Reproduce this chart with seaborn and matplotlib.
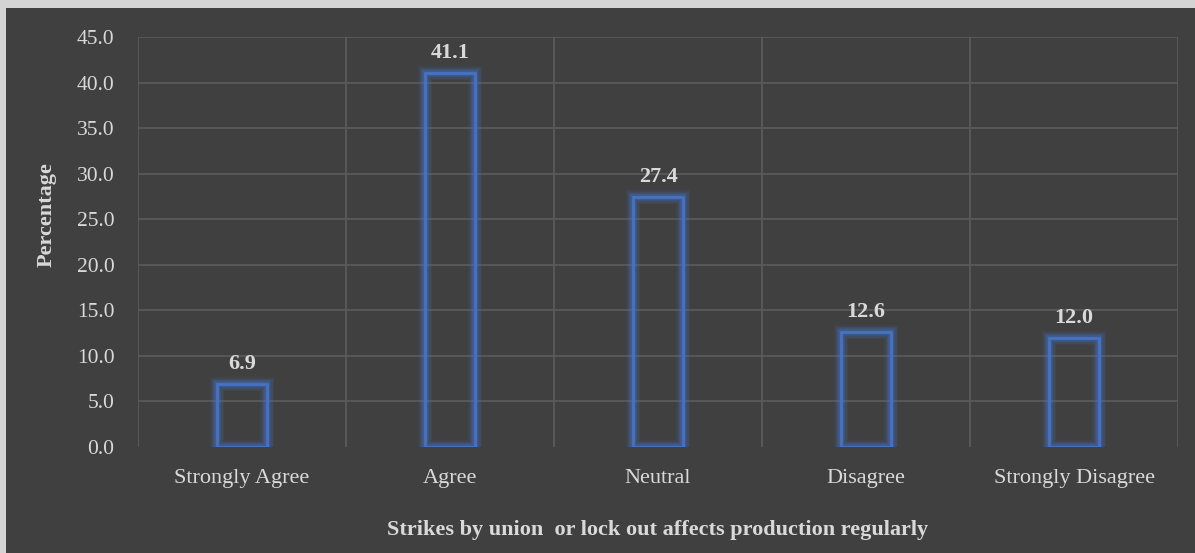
import matplotlib
matplotlib.use("Agg")
import matplotlib.pyplot as plt
from matplotlib.patches import Rectangle
import seaborn as sns
import pandas as pd

categories = ["Strongly Agree", "Agree", "Neutral", "Disagree", "Strongly Disagree"]
percentages = [6.9, 41.1, 27.4, 12.6, 12.0]
y_ticks = [0, 5, 10, 15, 20, 25, 30, 35, 40, 45]

df = pd.DataFrame({"response": categories, "pct": percentages})

sns.set_theme(style="dark")
plt.rcParams["font.family"] = ["Liberation Serif", "DejaVu Serif"]

BG = "#404040"
GRID = "#5a5a5a"
TEXT = "#d9d9d9"
BLUE = "#4472c4"

fig = plt.figure(figsize=(11.95, 5.53), dpi=100, facecolor="#d4d4d4")
W, H = 1195, 553
# dark chart panel inside a thin light frame
fig.patches.append(Rectangle((6 / W, 0), 1 - 6 / W, 1 - 8 / H, transform=fig.transFigure,
                             facecolor=BG, edgecolor="none", zorder=-10))

ax = fig.add_axes([138 / W, 1 - 447 / H, (1178 - 138) / W, (447 - 37) / H])
ax.set_facecolor(BG)

sns.barplot(data=df, x="response", y="pct", order=categories, width=0.24,
            fill=False, color=BLUE, linewidth=2.0, ax=ax, zorder=5)

# soft glow around each bar outline
for p in list(ax.patches):
    x, y = p.get_x(), p.get_y()
    w, h = p.get_width(), p.get_height()
    p.set_edgecolor(BLUE)
    for lw, a in [(10, 0.10), (8, 0.14), (6, 0.2), (4, 0.3)]:
        ax.add_patch(Rectangle((x, y), w, h, fill=False, edgecolor=BLUE,
                               linewidth=lw, alpha=a, zorder=4))

ax.set_ylim(0, 45)
ax.set_xlim(-0.5, len(categories) - 0.5)
ax.set_yticks(y_ticks)
ax.set_yticklabels([f"{v:.1f}" for v in y_ticks])

# horizontal and vertical grid lines
for v in y_ticks:
    if v > 0:
        ax.axhline(v, color=GRID, linewidth=1.3, zorder=1)
for i in range(len(categories) + 1):
    ax.axvline(i - 0.5, color=GRID, linewidth=1.3, zorder=1)

for s in ax.spines.values():
    s.set_visible(False)

ax.tick_params(axis="y", length=0, pad=17, labelsize=15.5, labelcolor=TEXT)
ax.tick_params(axis="x", length=0, pad=16, labelsize=16, labelcolor=TEXT)

for i, v in enumerate(percentages):
    ax.text(i, v + 1.1, f"{v:.1f}", ha="center", va="bottom", color=TEXT,
            fontsize=16, fontweight="bold", zorder=6)

ax.set_ylabel("Percentage", color=TEXT, fontsize=16, fontweight="bold", labelpad=14)
ax.yaxis.set_label_coords(-0.078, 0.568)
ax.set_xlabel("Strikes by union  or lock out affects production regularly", color=TEXT,
              fontsize=16, fontweight="bold", labelpad=23)

fig.savefig("out.png", dpi=100, facecolor=fig.get_facecolor())
